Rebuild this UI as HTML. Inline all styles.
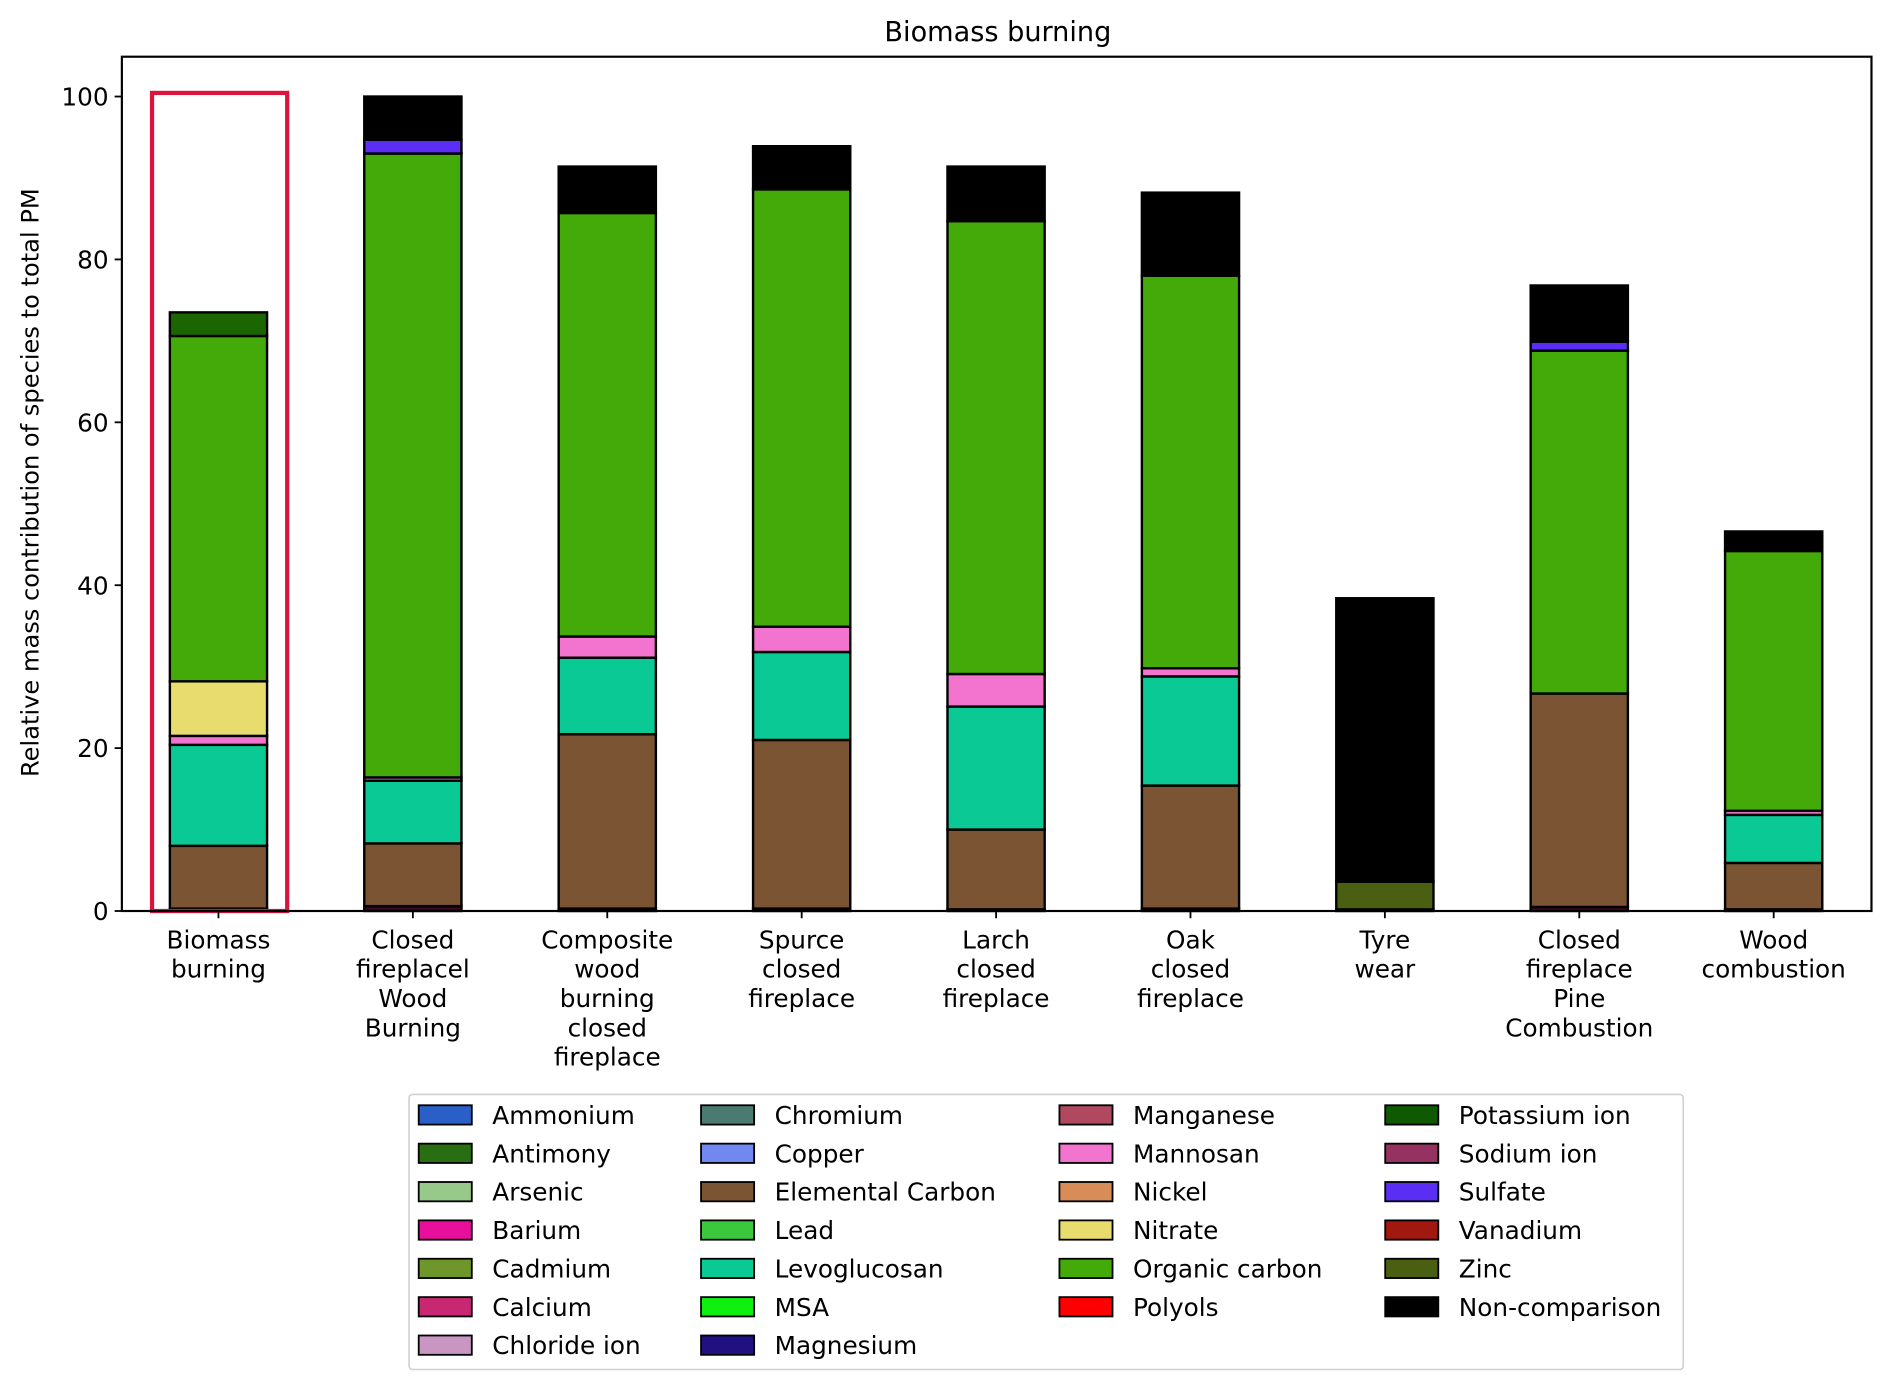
<!DOCTYPE html>
<html><head><meta charset="utf-8"><style>
html,body{margin:0;padding:0;background:#fff;}
svg{display:block;font-family:"DejaVu Sans","Liberation Sans",sans-serif;}
</style></head><body>
<svg id="chart" width="1892" height="1391" viewBox="0 0 1568 1152.8" xmlns="http://www.w3.org/2000/svg">
<rect x="0" y="0" width="1568" height="1153" fill="#fff"/>
<text x="827" y="34" font-size="22.5" text-anchor="middle">Biomass burning</text>
<text transform="translate(32,400) rotate(-90)" font-size="20" text-anchor="middle">Relative mass contribution of species to total PM</text>
<g id="bars"></g>
<rect x="126" y="77" width="112" height="678" fill="none" stroke="#dc143c" stroke-width="3.5"/>
<rect x="101" y="47" width="1450" height="708" fill="none" stroke="#000" stroke-width="1.8"/>
<g id="yticks"></g>
<g id="xticks"></g>
<g id="legend"></g>
</svg>
<script>
const categories = [["Biomass","burning"],["Closed","fireplacel","Wood","Burning"],["Composite","wood","burning","closed","fireplace"],["Spurce","closed","fireplace"],["Larch","closed","fireplace"],["Oak","closed","fireplace"],["Tyre","wear"],["Closed","fireplace","Pine","Combustion"],["Wood","combustion"]];
const yTicks = [0,20,40,60,80,100];
const seriesNames = ["Base","Elemental Carbon","Levoglucosan","Mannosan","Nitrate","Zinc","Organic carbon","Potassium ion","Sulfate","Non-comparison"];
const baseVals = [0.3,0.6,0.3,0.3,0.2,0.3,0.2,0.5,0.2];
const ecVals = [7.7,7.7,21.4,20.7,9.8,15.1,0,26.2,5.7];
const levoVals = [12.4,7.7,9.4,10.8,15.1,13.4,0,0,5.9];
const mannosanVals = [1.1,0.4,2.6,3.1,4.0,1.0,0,0,0.5];
const nitrateVals = [6.7,0,0,0,0,0,0,0,0];
const zincVals = [0,0,0,0,0,0,3.4,0,0];
const ocVals = [42.4,76.6,52.0,53.7,55.6,48.2,0,42.1,31.9];
const potassiumVals = [2.9,0,0,0,0,0,0,0,0];
const sulfateVals = [0,1.7,0,0,0,0,0,1.1,0];
const ncVals = [0,5.3,5.7,5.3,6.7,10.2,34.8,6.9,2.4];
const seriesVals = [baseVals,ecVals,levoVals,mannosanVals,nitrateVals,zincVals,ocVals,potassiumVals,sulfateVals,ncVals];
const seriesColors = ["#3a0a20","#7b5533","#0ac994","#f374cf","#e8dc6e","#4a5f12","#44aa0a","#1b6600","#5b2ef5","#000000"];
const legendNames = ["Ammonium","Antimony","Arsenic","Barium","Cadmium","Calcium","Chloride ion","Chromium","Copper","Elemental Carbon","Lead","Levoglucosan","MSA","Magnesium","Manganese","Mannosan","Nickel","Nitrate","Organic carbon","Polyols","Potassium ion","Sodium ion","Sulfate","Vanadium","Zinc","Non-comparison"];
const legendColors = ["#2a5fc8","#2a6e14","#96c98a","#e8109a","#6e962a","#c82872","#c896c0","#4a7a70","#7088f0","#7b5533","#3cc83c","#0ac994","#10f010","#201080","#b04860","#f374cf","#d88c58","#e8dc6e","#44aa0a","#ff0000","#0f5a00","#963262","#5b2ef5","#a01810","#4a5f12","#000000"];
const colCounts = [7,7,6,6];

const NS="http://www.w3.org/2000/svg";
const x0=101,x1=1551,yb=755,pxPerUnit=6.75;
const step=(x1-x0)/categories.length;
function xc(i){return x0+step*(i+0.5)-0.5;}
function ys(v){return yb-v*pxPerUnit;}
function mk(tag,attrs,parent){const e=document.createElementNS(NS,tag);for(const k in attrs)e.setAttribute(k,attrs[k]);parent.appendChild(e);return e;}
const gb=document.getElementById('bars');
const bw=step*0.5;
categories.forEach((c,i)=>{
  let cum=0;
  seriesVals.forEach((arr,s)=>{
    const v=arr[i]; if(v<=0) return;
    const r=mk('rect',{x:xc(i)-bw/2,y:ys(cum+v),width:bw,height:v*pxPerUnit,fill:seriesColors[s],stroke:'#000','stroke-width':2},gb);
    
    
    cum+=v;
  });
});
const gy=document.getElementById('yticks');
yTicks.forEach(t=>{
  const l=mk('line',{x1:x0-6,x2:x0,y1:ys(t),y2:ys(t),stroke:'#000','stroke-width':1.5},gy);
  
  
  const tx=mk('text',{x:x0-11,y:ys(t)+7.5,'font-size':20.5,'text-anchor':'end'},gy);
  tx.textContent=t;
  
  
});
const gx=document.getElementById('xticks');
categories.forEach((c,i)=>{
  const l=mk('line',{x1:xc(i),x2:xc(i),y1:yb,y2:yb+6,stroke:'#000','stroke-width':1.5},gx);
  
  
  const tx=mk('text',{x:xc(i),'font-size':20.5,'text-anchor':'middle'},gx);
  
  
  c.forEach((w,j)=>{const ts=mk('tspan',{x:xc(i),y:786+j*24.3},tx);ts.textContent=w;});
});
const gl=document.getElementById('legend');
const lb=mk('rect',{x:339,y:907,width:1056,height:228,rx:3,fill:'#fff',stroke:'#d0d0d0','stroke-width':1.3},gl);


const colX=[347,581,878,1148];
let k=0;
colCounts.forEach((cnt,col)=>{
  for(let row=0;row<cnt;row++,k++){
    const n=legendNames[k];
    const y=924+row*31.8;
    const p=mk('rect',{x:colX[col],y:y-8,width:44,height:16,fill:legendColors[k],stroke:'#000','stroke-width':1.5},gl);
    
    
    const t=mk('text',{x:colX[col]+61,y:y+7.5,'font-size':20.5},gl);
    t.textContent=n;
    
    
  }
});
</script>
</body></html>
